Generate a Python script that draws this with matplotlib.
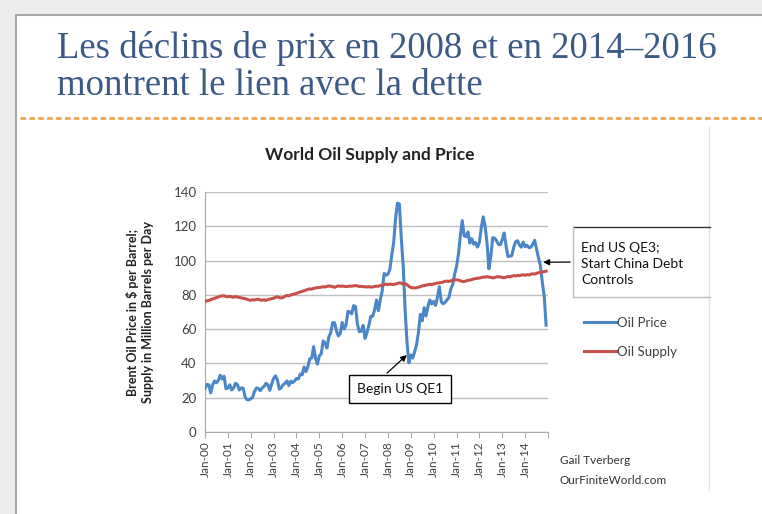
import numpy as np
import matplotlib
matplotlib.use('Agg')
import matplotlib.pyplot as plt
from matplotlib.lines import Line2D
from matplotlib.patches import Rectangle

# Brent oil price, monthly, Jan-2000 .. Dec-2014 ($ per barrel)
price_2000 = [25.5, 27.8, 27.5, 22.8, 27.4, 29.8, 28.7, 30.2, 33.1, 30.9, 32.6, 25.3]
price_2001 = [25.6, 27.5, 24.5, 25.7, 28.4, 27.7, 24.5, 25.7, 25.6, 20.5, 18.9, 18.7]
price_2002 = [19.4, 20.3, 23.7, 25.7, 25.4, 24.1, 25.7, 26.6, 28.4, 27.5, 24.3, 28.0]
price_2003 = [31.2, 32.8, 30.3, 25.0, 25.8, 27.6, 28.4, 29.8, 27.1, 29.6, 28.8, 29.8]
price_2004 = [31.2, 30.9, 33.8, 33.4, 37.9, 35.2, 38.2, 42.7, 43.2, 49.8, 43.1, 39.6]
price_2005 = [44.5, 45.5, 53.1, 51.9, 49.0, 55.6, 57.9, 63.8, 63.7, 59.0, 56.0, 57.6]
price_2006 = [63.9, 60.1, 62.3, 70.4, 70.0, 68.9, 73.7, 73.2, 62.8, 58.5, 58.8, 62.2]
price_2007 = [54.6, 58.0, 62.1, 67.5, 67.5, 71.3, 77.0, 70.8, 77.2, 82.3, 92.5, 91.5]
price_2008 = [92.0, 94.8, 103.3, 110.4, 124.6, 133.5, 133.0, 113.2, 97.2, 71.6, 52.5, 40.4]
price_2009 = [44.9, 43.1, 46.8, 50.8, 57.9, 68.6, 64.9, 72.5, 67.7, 73.2, 77.0, 74.7]
price_2010 = [76.2, 73.8, 78.8, 84.8, 75.9, 74.8, 75.6, 77.1, 78.4, 83.5, 86.1, 92.0]
price_2011 = [96.5, 103.7, 114.6, 123.3, 114.5, 113.9, 116.7, 110.2, 112.8, 109.6, 110.5, 107.9]
price_2012 = [110.7, 119.3, 125.5, 119.8, 110.3, 95.2, 102.6, 113.4, 113.0, 111.5, 109.5, 109.2]
price_2013 = [112.3, 116.1, 108.5, 102.3, 102.6, 102.9, 107.7, 111.0, 111.6, 109.1, 107.8, 110.8]
price_2014 = [108.1, 108.9, 107.5, 107.8, 109.5, 111.8, 106.8, 101.6, 97.1, 87.4, 79.4, 62.3]

# World oil supply, monthly (million barrels per day)
supply_2000 = [76.0, 76.5, 76.8, 77.2, 77.6, 78.0, 78.4, 78.8, 79.2, 79.3, 79.5, 79.0]
supply_2001 = [78.9, 79.2, 78.8, 78.6, 79.0, 78.7, 78.5, 78.2, 78.0, 77.8, 77.4, 77.0]
supply_2002 = [76.8, 77.2, 77.0, 77.3, 77.5, 77.0, 76.9, 77.1, 76.8, 77.2, 77.5, 77.8]
supply_2003 = [78.0, 78.6, 78.9, 78.4, 78.2, 78.5, 79.2, 79.6, 79.4, 79.9, 80.3, 80.5]
supply_2004 = [80.9, 81.3, 81.7, 82.0, 82.4, 82.8, 83.2, 83.5, 83.3, 83.8, 84.0, 84.2]
supply_2005 = [84.3, 84.5, 84.7, 84.6, 84.9, 85.2, 85.0, 84.8, 84.4, 84.9, 85.2, 85.0]
supply_2006 = [85.1, 85.0, 84.8, 84.9, 85.2, 85.0, 85.3, 85.4, 85.2, 84.9, 85.0, 84.8]
supply_2007 = [84.7, 84.6, 84.8, 84.5, 84.6, 84.9, 85.1, 85.0, 85.4, 85.7, 86.0, 86.2]
supply_2008 = [86.0, 86.3, 86.1, 86.0, 86.4, 86.6, 87.0, 86.8, 86.2, 86.6, 85.9, 85.0]
supply_2009 = [84.3, 84.1, 84.0, 84.2, 84.4, 84.8, 85.2, 85.4, 85.7, 85.9, 86.2, 86.0]
supply_2010 = [86.4, 86.6, 86.9, 87.0, 87.2, 87.5, 87.9, 88.0, 87.8, 88.2, 88.5, 88.7]
supply_2011 = [88.8, 88.6, 88.2, 87.9, 87.7, 88.1, 88.5, 88.6, 88.9, 89.3, 89.5, 89.7]
supply_2012 = [89.8, 90.1, 90.4, 90.3, 90.6, 90.4, 90.2, 89.9, 90.1, 90.5, 90.6, 90.4]
supply_2013 = [90.2, 90.0, 90.3, 90.7, 90.5, 90.9, 91.2, 91.0, 91.4, 91.2, 91.5, 91.7]
supply_2014 = [91.4, 91.8, 91.6, 92.0, 92.3, 92.1, 92.6, 92.9, 93.1, 93.3, 93.6, 93.8]

years = ['00', '01', '02', '03', '04', '05', '06', '07', '08', '09', '10', '11', '12', '13', '14']
tick_labels = ['Jan-' + y for y in years]

price = (price_2000 + price_2001 + price_2002 + price_2003 + price_2004 + price_2005 + price_2006
         + price_2007 + price_2008 + price_2009 + price_2010 + price_2011 + price_2012 + price_2013 + price_2014)
supply = (supply_2000 + supply_2001 + supply_2002 + supply_2003 + supply_2004 + supply_2005 + supply_2006
          + supply_2007 + supply_2008 + supply_2009 + supply_2010 + supply_2011 + supply_2012 + supply_2013
          + supply_2014)
months = np.arange(len(price))

W, H = 762, 514
def px(x, y):
    return (x / W, 1 - y / H)

fig = plt.figure(figsize=(W / 100, H / 100), dpi=100)
fig.patch.set_facecolor('white')

# slide frame
fig.add_artist(Rectangle((0, 0), 16 / W, 1, transform=fig.transFigure, color='#ececec', zorder=0))
fig.add_artist(Rectangle((0, 1 - 15 / H), 1, 15 / H, transform=fig.transFigure, color='#ececec', zorder=0))
fig.add_artist(Line2D([16 / W, 16 / W], [0, 1 - 15 / H], transform=fig.transFigure, color='#9a9a9a', lw=1.2))
fig.add_artist(Line2D([16 / W, 1], [1 - 15 / H, 1 - 15 / H], transform=fig.transFigure, color='#9a9a9a', lw=1.2))

# slide title
title_col = '#3c5a88'
fig.text(57 / W, 1 - 58 / H, 'Les déclins de prix en 2008 et en 2014–2016', family='Liberation Serif',
         fontsize=26.5, color=title_col, ha='left', va='baseline')
fig.text(57 / W, 1 - 95 / H, 'montrent le lien avec la dette', family='Liberation Serif',
         fontsize=26.5, color=title_col, ha='left', va='baseline')
fig.add_artist(Line2D([20 / W, 1], [1 - 118 / H, 1 - 118 / H], transform=fig.transFigure,
                      color='#f0a552', lw=2, dashes=(2, 1.2)))

# border of pasted chart image
fig.add_artist(Line2D([709 / W, 709 / W], [1 - 127 / H, 1 - 490 / H], transform=fig.transFigure,
                      color='#e2e2e2', lw=1))

font = 'Lato'
ax = fig.add_axes([205 / W, 1 - 432 / H, 343 / W, 240 / H])
ax.plot(months, price, color='#4a86c8', lw=2.2, label='Oil Price', zorder=3)
ax.plot(months, supply, color='#c8504b', lw=2.2, label='Oil Supply', zorder=3)
ax.set_xlim(0, 180)
ax.set_ylim(0, 140)
ax.set_yticks(range(0, 141, 20))
ax.set_xticks(range(0, 181, 12))
ax.set_xticklabels(tick_labels + [''], rotation=90, family=font, fontsize=8.5, color='#404040')
ax.set_yticklabels([str(v) for v in range(0, 141, 20)], family=font, fontsize=9.5, color='#404040')
ax.grid(axis='y', color='#c0c0c0', lw=1)
ax.set_axisbelow(True)
for s in ['top', 'right']:
    ax.spines[s].set_visible(False)
ax.spines['left'].set_color('#a8a8a8')
ax.spines['bottom'].set_color('#a8a8a8')
ax.tick_params(axis='y', length=0, pad=6)
ax.tick_params(axis='x', length=4, color='#a8a8a8', pad=3)

fig.text(370 / W, 1 - 155 / H, 'World Oil Supply and Price', family=font, fontweight='bold',
         fontsize=12.5, color='#222222', ha='center', va='center')
fig.text(140 / W, 1 - 312 / H, 'Brent Oil Price in $ per Barrel;\nSupply in Million Barrels per Day',
         family=font, fontweight='bold', fontsize=9, rotation=90, ha='center', va='center',
         color='#222222', linespacing=1.25)

# annotation: Begin US QE1
ax.annotate('', xy=(107, 46), xycoords='data', xytext=px(385, 375), textcoords='figure fraction',
            arrowprops=dict(arrowstyle='-|>', color='black', lw=0.9, mutation_scale=9),
            annotation_clip=False)
fig.text(400 / W, 1 - 389 / H, 'Begin US QE1', family=font, fontsize=10, ha='center', va='center',
         color='#111111',
         bbox=dict(boxstyle='square,pad=0.6', fc='white', ec='black', lw=1))

# annotation: End US QE3
ax.annotate('', xy=(176, 99), xycoords='data', xytext=px(573, 262), textcoords='figure fraction',
            arrowprops=dict(arrowstyle='-|>', color='black', lw=0.9, mutation_scale=9),
            annotation_clip=False)
fig.add_artist(Line2D([573 / W, 710 / W], [1 - 227 / H, 1 - 227 / H], transform=fig.transFigure,
                      color='#333333', lw=1))
fig.add_artist(Line2D([573 / W, 573 / W], [1 - 227 / H, 1 - 297 / H], transform=fig.transFigure,
                      color='#bbbbbb', lw=1))
fig.add_artist(Line2D([573 / W, 710 / W], [1 - 297 / H, 1 - 297 / H], transform=fig.transFigure,
                      color='#bbbbbb', lw=1))
fig.text(581 / W, 1 - 264 / H, 'End US QE3;\nStart China Debt\nControls', family=font, fontsize=10,
         ha='left', va='center', color='#111111', linespacing=1.45)

# legend beside the plot
handles, labels = ax.get_legend_handles_labels()
leg = fig.legend(handles, labels, loc='upper left', bbox_to_anchor=px(572, 305), frameon=False,
                 prop={'family': font, 'size': 9.5}, handlelength=2.4, handletextpad=0.1,
                 labelspacing=1.3, labelcolor='#404040')

fig.text(560 / W, 1 - 461 / H, 'Gail Tverberg', family=font, fontsize=8.5, color='#333333',
         ha='left', va='center')
fig.text(560 / W, 1 - 481 / H, 'OurFiniteWorld.com', family=font, fontsize=8.5, color='#333333',
         ha='left', va='center')

fig.savefig('out.png', dpi=100)
